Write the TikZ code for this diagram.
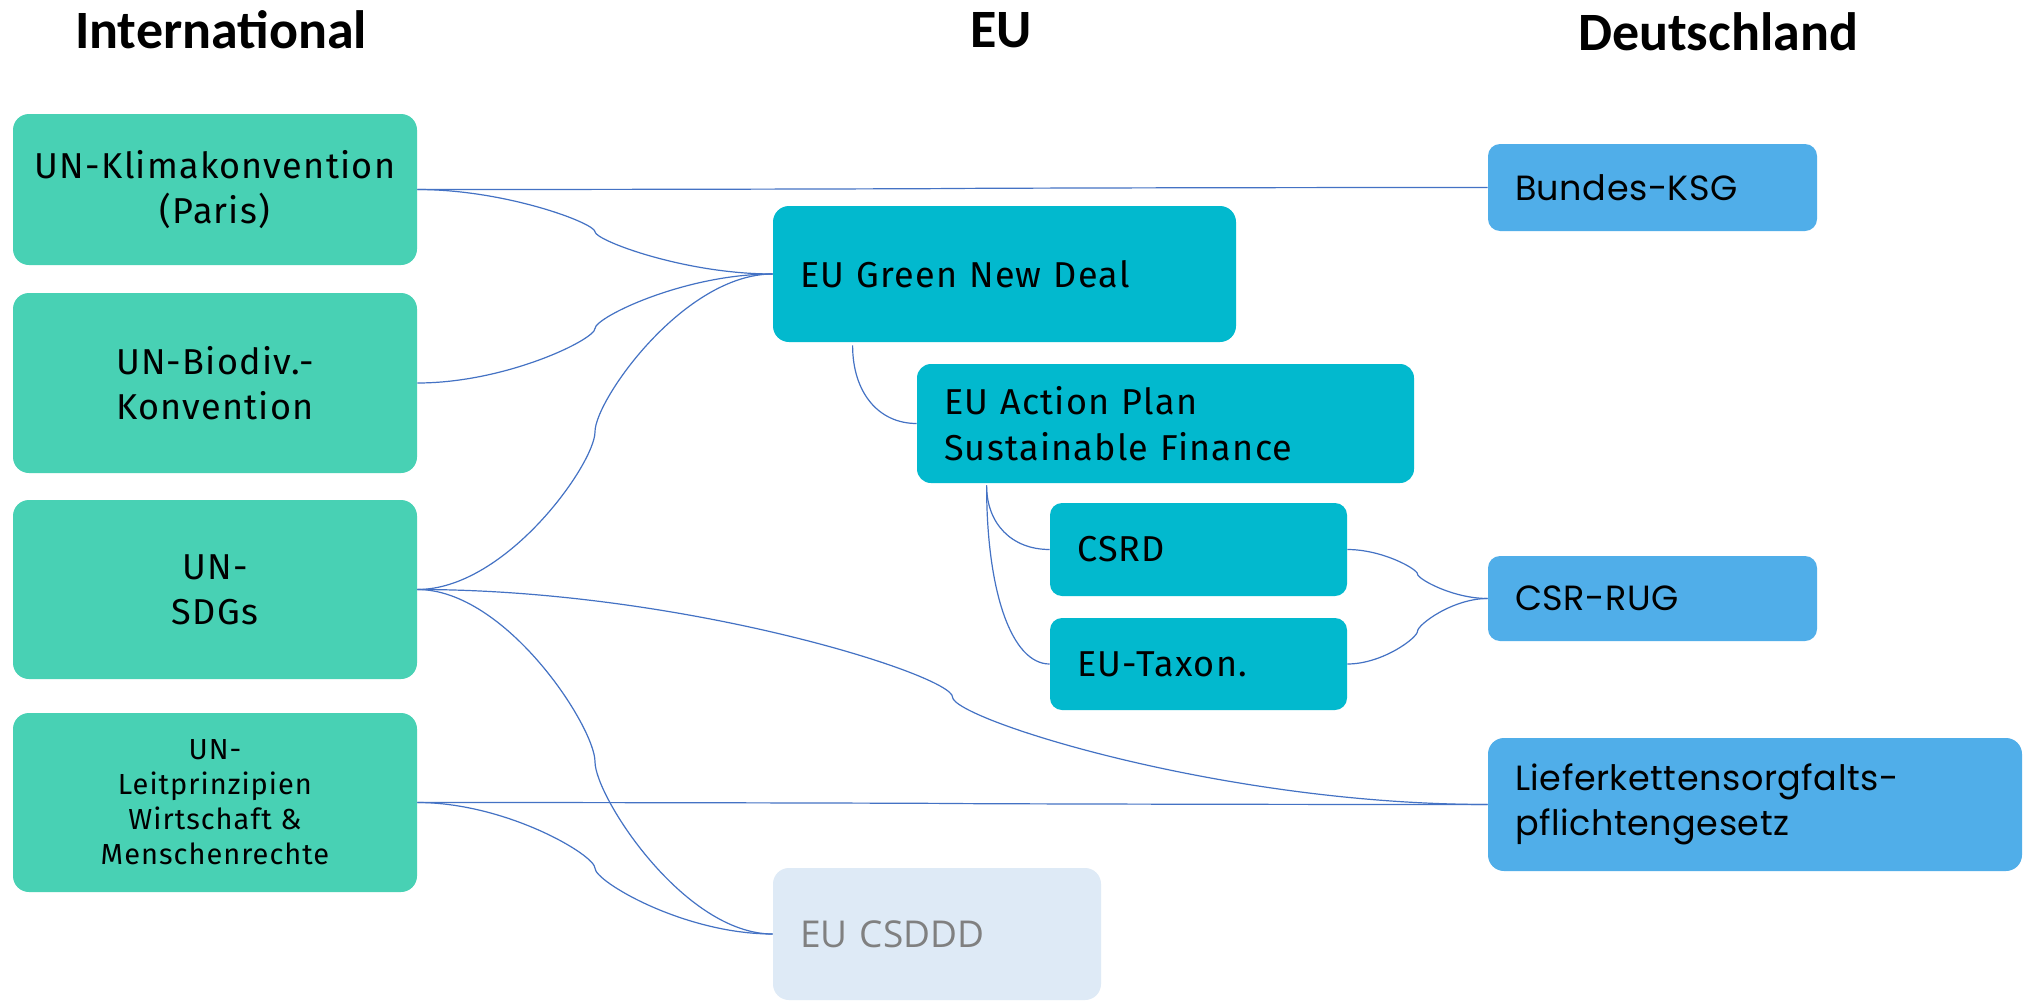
\documentclass[tikz,border=0pt]{standalone}
\usepackage{fontspec}
\setmainfont{Fira Sans}[LetterSpace=3.5]
\newfontfamily\hdfont{Carlito}
\newfontfamily\defont{Poppins}[LetterSpace=1.5]
\newfontfamily\grfont{Open Sans}
\usetikzlibrary{calc}
\definecolor{intl}{HTML}{48D1B4}
\definecolor{eu}{HTML}{02B9CE}
\definecolor{de}{HTML}{50AEE9}
\definecolor{pend}{HTML}{DEEAF6}
\definecolor{pendtext}{HTML}{808080}
\definecolor{conn}{HTML}{4472C4}
\tikzset{
  box/.style={rounded corners=8pt, inner ysep=0pt, text=black},
  intlbox/.style={box, fill=intl, minimum width=202pt, inner xsep=0pt, align=center,
    font=\fontsize{18}{22.5}\selectfont},
  eubox/.style={box, fill=eu, align=left, inner xsep=13.5pt,
    font=\fontsize{18}{23}\selectfont},
  debox/.style={box, fill=de, align=left, rounded corners=6pt, inner xsep=13.5pt,
    font=\defont\fontsize{17.5}{22.5}\selectfont},
  pendbox/.style={box, fill=pend, text=pendtext, align=left, inner xsep=13.5pt,
    font=\grfont\fontsize{18.5}{23}\selectfont},
  hd/.style={font=\hdfont\bfseries\fontsize{27}{30}\selectfont, inner sep=0pt},
  link/.style={draw=conn, line width=0.6pt},
  scurve/.style={to path={let \p1=(\tikztostart), \p2=(\tikztotarget) in
    .. controls ({0.75*\x1+0.25*\x2},\y1) and ({0.5*\x1+0.5*\x2},{0.6*\y1+0.4*\y2})
    .. ({0.5*\x1+0.5*\x2},{0.5*\y1+0.5*\y2})
    .. controls ({0.5*\x1+0.5*\x2},{0.4*\y1+0.6*\y2}) and ({0.25*\x1+0.75*\x2},\y2)
    .. (\tikztotarget)}},
  corner/.style={to path={let \p1=(\tikztostart), \p2=(\tikztotarget) in
    .. controls (\x1,{0.4*\y1+0.6*\y2}) and ({0.6*\x1+0.4*\x2},\y2) .. (\tikztotarget)}}
}
\begin{document}
\begin{tikzpicture}[x=0.5pt,y=-0.5pt]
\useasboundingbox[fill=white] (0,0) rectangle (2036,1001);

% headers
\node[hd] (hint) at (221,30) {International};
\node[hd] (heu) at (1001,30) {EU};
\node[hd] (hde) at (1718,32) {Deutschland};

% international
\node[intlbox, minimum height=75.5pt] (klima) at (215,189.5) {UN-Klimakonvention\\(Paris)};
\node[intlbox, minimum height=90pt] (biodiv) at (215,383) {UN-Biodiv.-\\Konvention};
\node[intlbox, minimum height=89.5pt] (sdgs) at (215,589.5) {UN-\\SDGs};
\node[intlbox, minimum height=89.5pt, font=\fontsize{14.5}{17.5}\selectfont] (leit) at (215,802.5)
  {UN-\\Leitprinzipien\\Wirtschaft \&\\Menschenrechte};

% EU
\node[eubox, minimum height=68pt, text width=204.5pt] (gnd) at (1004.5,274) {EU Green New Deal};
\node[eubox, minimum height=59.5pt, text width=221.5pt, rounded corners=7pt] (ap) at (1165.5,423.5)
  {EU Action Plan\\Sustainable Finance};
\node[eubox, minimum height=46.5pt, text width=121.5pt, rounded corners=6pt] (csrd) at (1198.5,549.5) {CSRD};
\node[eubox, minimum height=46pt, text width=121.5pt, rounded corners=6pt] (tax) at (1198.5,664) {EU-Taxon.};
\node[pendbox, minimum height=66pt, text width=137pt] (csddd) at (937,934) {EU CSDDD};

% Deutschland
\node[debox, minimum height=43.5pt, text width=137.5pt] (ksg) at (1652.5,187.5) {Bundes-KSG};
\node[debox, minimum height=42.5pt, text width=137.5pt] (rug) at (1652.5,598.5) {CSR-RUG};
\node[debox, minimum height=66.5pt, text width=240pt, rounded corners=8pt] (lief) at (1755,804.5)
  {Lieferkettensorgfalts-\\pflichtengesetz};

% helper coordinates
\coordinate (gndout) at ([xshift=40pt,yshift=-1.5pt]gnd.south west);
\coordinate (apout) at ([xshift=35pt,yshift=-1pt]ap.south west);

% connectors
\draw[link] (klima.east) to[scurve] (ksg.west);
\draw[link] (klima.east) to[scurve] (gnd.west);
\draw[link] (biodiv.east) to[scurve] (gnd.west);
\draw[link] (sdgs.east) to[scurve] (gnd.west);
\draw[link] (sdgs.east) to[scurve] (csddd.west);
\draw[link] (sdgs.east) to[scurve] (lief.west);
\draw[link] (leit.east) to[scurve] (lief.west);
\draw[link] (leit.east) to[scurve] (csddd.west);
\draw[link] (gndout) to[corner] (ap.west);
\draw[link] (apout) to[corner] (csrd.west);
\draw[link] (apout) to[corner] (tax.west);
\draw[link] (csrd.east) to[scurve] (rug.west);
\draw[link] (tax.east) to[scurve] (rug.west);
\end{tikzpicture}
\end{document}
